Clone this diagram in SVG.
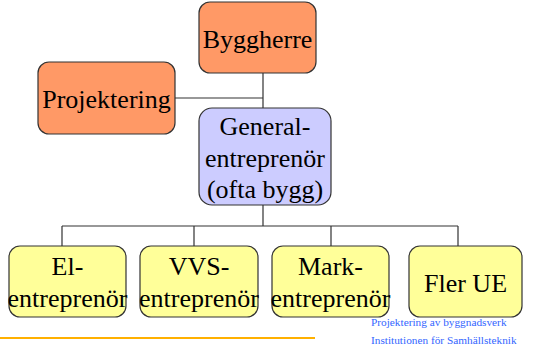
<svg xmlns="http://www.w3.org/2000/svg" width="545" height="350" viewBox="0 0 545 350">
<style>
.box{stroke:#333;stroke-width:1.2}
.or{fill:#FF9966}
.bl{fill:#CCCCFF}
.ye{fill:#FFFF99}
.t{font-family:"Liberation Serif",serif;font-size:26px;fill:#000;text-anchor:middle}
.conn{stroke:#333;stroke-width:1.2;fill:none}
.foot{font-family:"Liberation Serif",serif;font-size:11.3px;fill:#3366FF}
</style>
<rect width="545" height="350" fill="#fff"/>
<g id="connectors">
<path class="conn" d="M263 73 V108 M175 98 H263 M263 205 V226 M62 226 H458 M62 226 V246 M194 226 V246 M331 226 V246 M458 226 V246"/>
</g>
<g id="byggherre"><rect class="box or" x="199" y="2" width="117" height="71" rx="11"/><text class="t" x="257.5" y="48">Byggherre</text></g>
<g id="projektering"><rect class="box or" x="38" y="62" width="137" height="72" rx="11"/><text class="t" x="106.5" y="108">Projektering</text></g>
<g id="general"><rect class="box bl" x="199" y="108" width="132" height="97" rx="13"/><text class="t" x="265" y="135">General-</text><text class="t" x="265" y="167">entreprenör</text><text class="t" x="265" y="198">(ofta bygg)</text></g>
<g id="el"><rect class="box ye" x="9" y="246" width="117" height="71" rx="11"/><text class="t" x="67.5" y="275">El-</text><text class="t" x="67.5" y="307">entreprenör</text></g>
<g id="vvs"><rect class="box ye" x="140" y="246" width="118" height="71" rx="11"/><text class="t" x="199" y="275">VVS-</text><text class="t" x="199" y="307">entreprenör</text></g>
<g id="mark"><rect class="box ye" x="272" y="246" width="117" height="71" rx="11"/><text class="t" x="330.5" y="275">Mark-</text><text class="t" x="330.5" y="307">entreprenör</text></g>
<g id="fler"><rect class="box ye" x="409" y="246" width="113" height="71" rx="11"/><text class="t" x="465.5" y="292">Fler UE</text></g>
<line x1="0" y1="338" x2="315" y2="338" stroke="#FFB000" stroke-width="2"/>
<text class="foot" x="371" y="326">Projektering av byggnadsverk</text>
<text class="foot" x="371" y="344">Institutionen för Samhällsteknik</text>
</svg>
